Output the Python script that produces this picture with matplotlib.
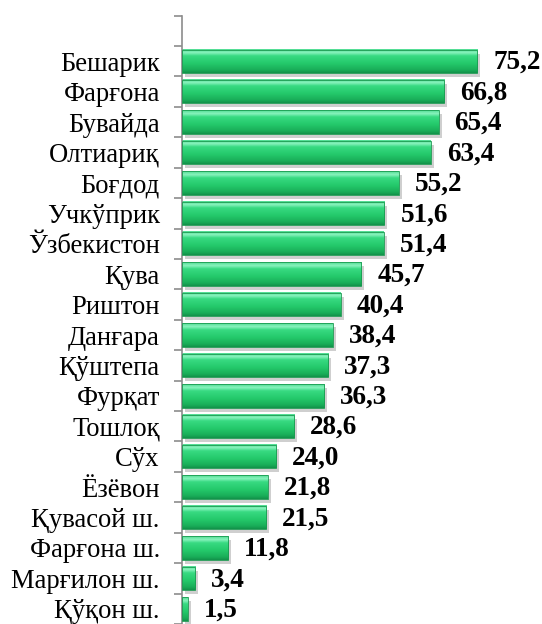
import matplotlib
matplotlib.use("Agg")
import matplotlib.pyplot as plt
import matplotlib.transforms as mtransforms
import numpy as np
from matplotlib.colors import LinearSegmentedColormap

districts = ["Бешарик", "Фарғона", "Бувайда", "Олтиариқ", "Боғдод", "Учкўприк",
             "Ўзбекистон", "Қува", "Риштон", "Данғара", "Қўштепа", "Фурқат",
             "Тошлоқ", "Сўх", "Ёзёвон", "Қувасой ш.", "Фарғона ш.",
             "Марғилон ш.", "Қўқон ш."]
values = [75.2, 66.8, 65.4, 63.4, 55.2, 51.6, 51.4, 45.7, 40.4, 38.4, 37.3,
          36.3, 28.6, 24.0, 21.8, 21.5, 11.8, 3.4, 1.5]

plt.rcParams['font.family'] = ['Liberation Serif', 'DejaVu Serif']

fig = plt.figure(figsize=(5.42, 6.24), dpi=100)
ax = fig.add_axes([0.3358, 0.0, 0.6153, 0.975])

# green bevel look: vertical gradient, light on top, darker at bottom
green = LinearSegmentedColormap.from_list(
    "bar_green",
    [(0.0, "#12924a"), (0.12, "#19ad58"), (0.4, "#24c96b"),
     (0.72, "#38da82"), (0.86, "#88f3bd"), (1.0, "#50dc92")])
grad = np.linspace(0, 1, 64).reshape(-1, 1)

h = 0.77
pos = np.arange(1, len(values) + 1)
shadow = mtransforms.offset_copy(ax.transData, fig=fig, x=3, y=-4, units="dots")

for y, v in zip(pos, values):
    # soft shadow under the bar
    ax.barh(y, v, height=h, left=0, color="#a8a8a8", alpha=0.55,
            transform=shadow, zorder=1)
    ax.imshow(grad, cmap=green, aspect="auto", origin="lower",
              extent=(0, v, y + h / 2, y - h / 2), zorder=2)
    ax.barh(y, v, height=h, left=0, facecolor="none", edgecolor="#1a9a50",
            linewidth=0.6, zorder=3)
    ax.annotate(f"{v:.1f}".replace(".", ","), xy=(v, y), xytext=(11.5, -1),
                textcoords="offset points", ha="left", va="center",
                fontsize=19.5, fontweight="bold", color="black", zorder=4)

ax.set_xlim(0, 85)
ax.set_ylim(len(values) + 0.5, -0.5)

ax.set_yticks(pos)
ax.set_yticklabels(districts, fontsize=19.2)
ax.tick_params(axis="y", which="major", length=0, pad=16)
ax.set_yticks(np.arange(-0.5, len(values) + 1, 1), minor=True)
ax.tick_params(axis="y", which="minor", length=6, width=1.2, color="#8c8c8c")
ax.set_xticks([])

for side in ["top", "right", "bottom"]:
    ax.spines[side].set_visible(False)
ax.spines["left"].set_color("#8c8c8c")
ax.spines["left"].set_linewidth(1.2)

fig.savefig("out.png", dpi=100)
